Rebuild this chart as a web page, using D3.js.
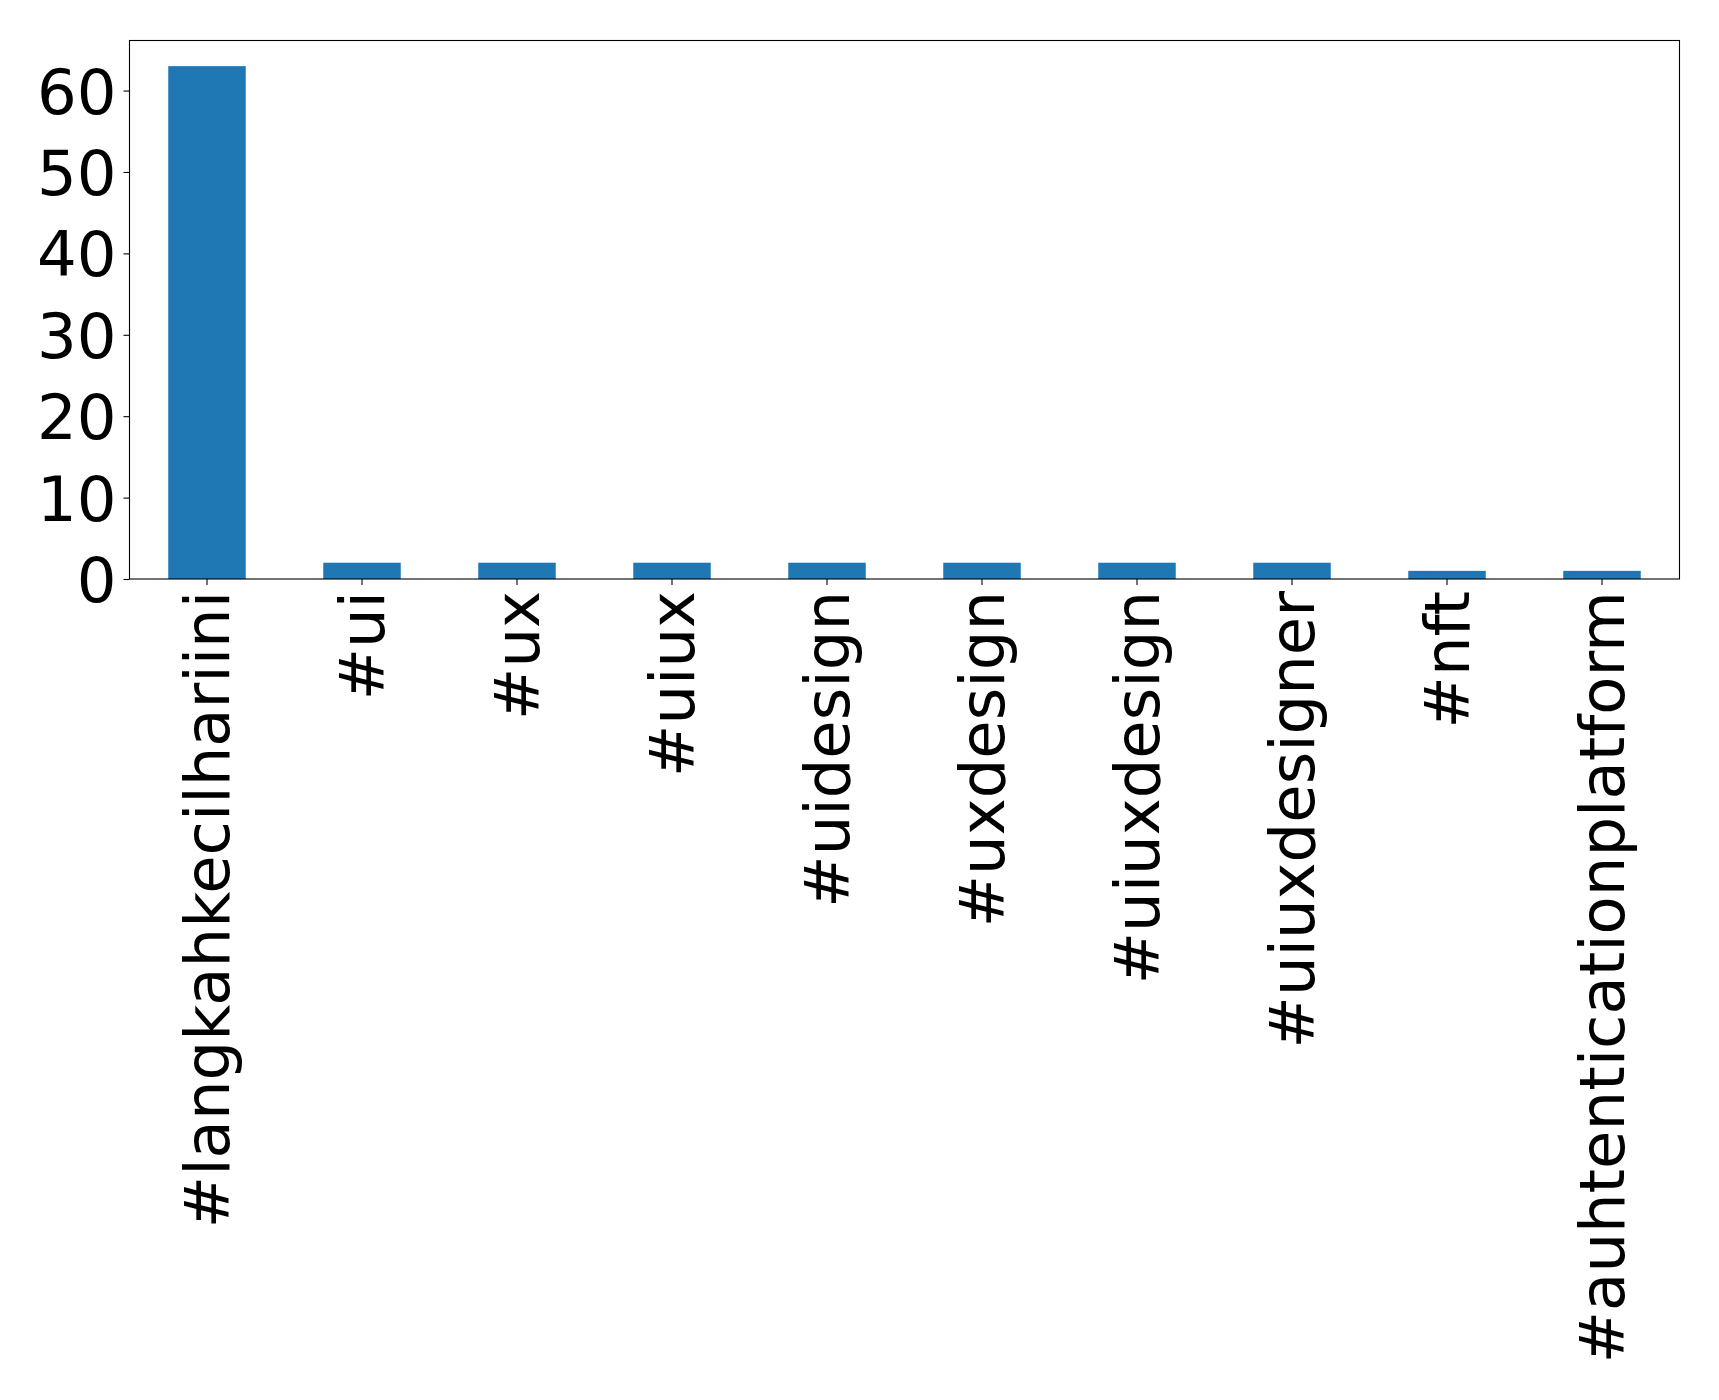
<!DOCTYPE html>
<html>
<head>
<meta charset="utf-8">
<script src="https://cdn.jsdelivr.net/npm/d3@7"></script>
<style>
  html, body { margin: 0; padding: 0; background: #fff; }
  svg { display: block; }
  text { font-family: "DejaVu Sans", sans-serif; fill: #000; }
</style>
</head>
<body>
<svg id="chart" width="1719" height="1400"></svg>
<script>
const categories = ["#langkahkecilhariini", "#ui", "#ux", "#uiux", "#uidesign", "#uxdesign", "#uiuxdesign", "#uiuxdesigner", "#nft", "#auhtenticationplatform"];
const values = [63, 2, 2, 2, 2, 2, 2, 2, 1, 1];
const yTicks = [0, 10, 20, 30, 40, 50, 60];

const margin = { left: 129.5, right: 1679.5, top: 40.5, bottom: 579 };
const svg = d3.select("#chart");
const fontSize = 62.5;

const x = d3.scaleBand().domain(categories).range([margin.left, margin.right]).paddingInner(0.5).paddingOuter(0.25);
const y = d3.scaleLinear().domain([0, d3.max(values) * 1.05]).range([margin.bottom, margin.top]);

svg.append("g").selectAll("rect").data(categories).join("rect")
  .attr("x", d => x(d))
  .attr("width", x.bandwidth())
  .attr("y", (d, i) => y(values[i]))
  .attr("height", (d, i) => y(0) - y(values[i]))
  .attr("fill", "#1f77b4");

// frame
svg.append("rect")
  .attr("x", margin.left).attr("y", margin.top)
  .attr("width", margin.right - margin.left).attr("height", margin.bottom - margin.top)
  .attr("fill", "none").attr("stroke", "#000").attr("stroke-width", 1.1);

const yAxis = svg.append("g").attr("transform", `translate(${margin.left},0)`)
  .call(d3.axisLeft(y).tickValues(yTicks).tickSize(6).tickPadding(7).tickFormat(d3.format("d")));
yAxis.select(".domain").remove();
yAxis.selectAll("line").attr("stroke", "#000").attr("stroke-width", 1.1);
yAxis.selectAll("text").attr("font-size", fontSize).attr("dy", "0.36em").attr("font-family", "DejaVu Sans").attr("fill", "#000");

const xAxis = svg.append("g").attr("transform", `translate(0,${margin.bottom})`)
  .call(d3.axisBottom(x).tickSize(6).tickPadding(0));
xAxis.select(".domain").remove();
xAxis.selectAll("line").attr("stroke", "#000").attr("stroke-width", 1.1);
xAxis.selectAll("text")
  .attr("font-size", fontSize)
  .attr("font-family", "DejaVu Sans")
  .attr("fill", "#000")
  .attr("text-anchor", "end")
  .attr("transform", "translate(0,12) rotate(-90)")
  .attr("x", 0).attr("y", 0)
  .attr("dy", "0.35em");
</script>
</body>
</html>
